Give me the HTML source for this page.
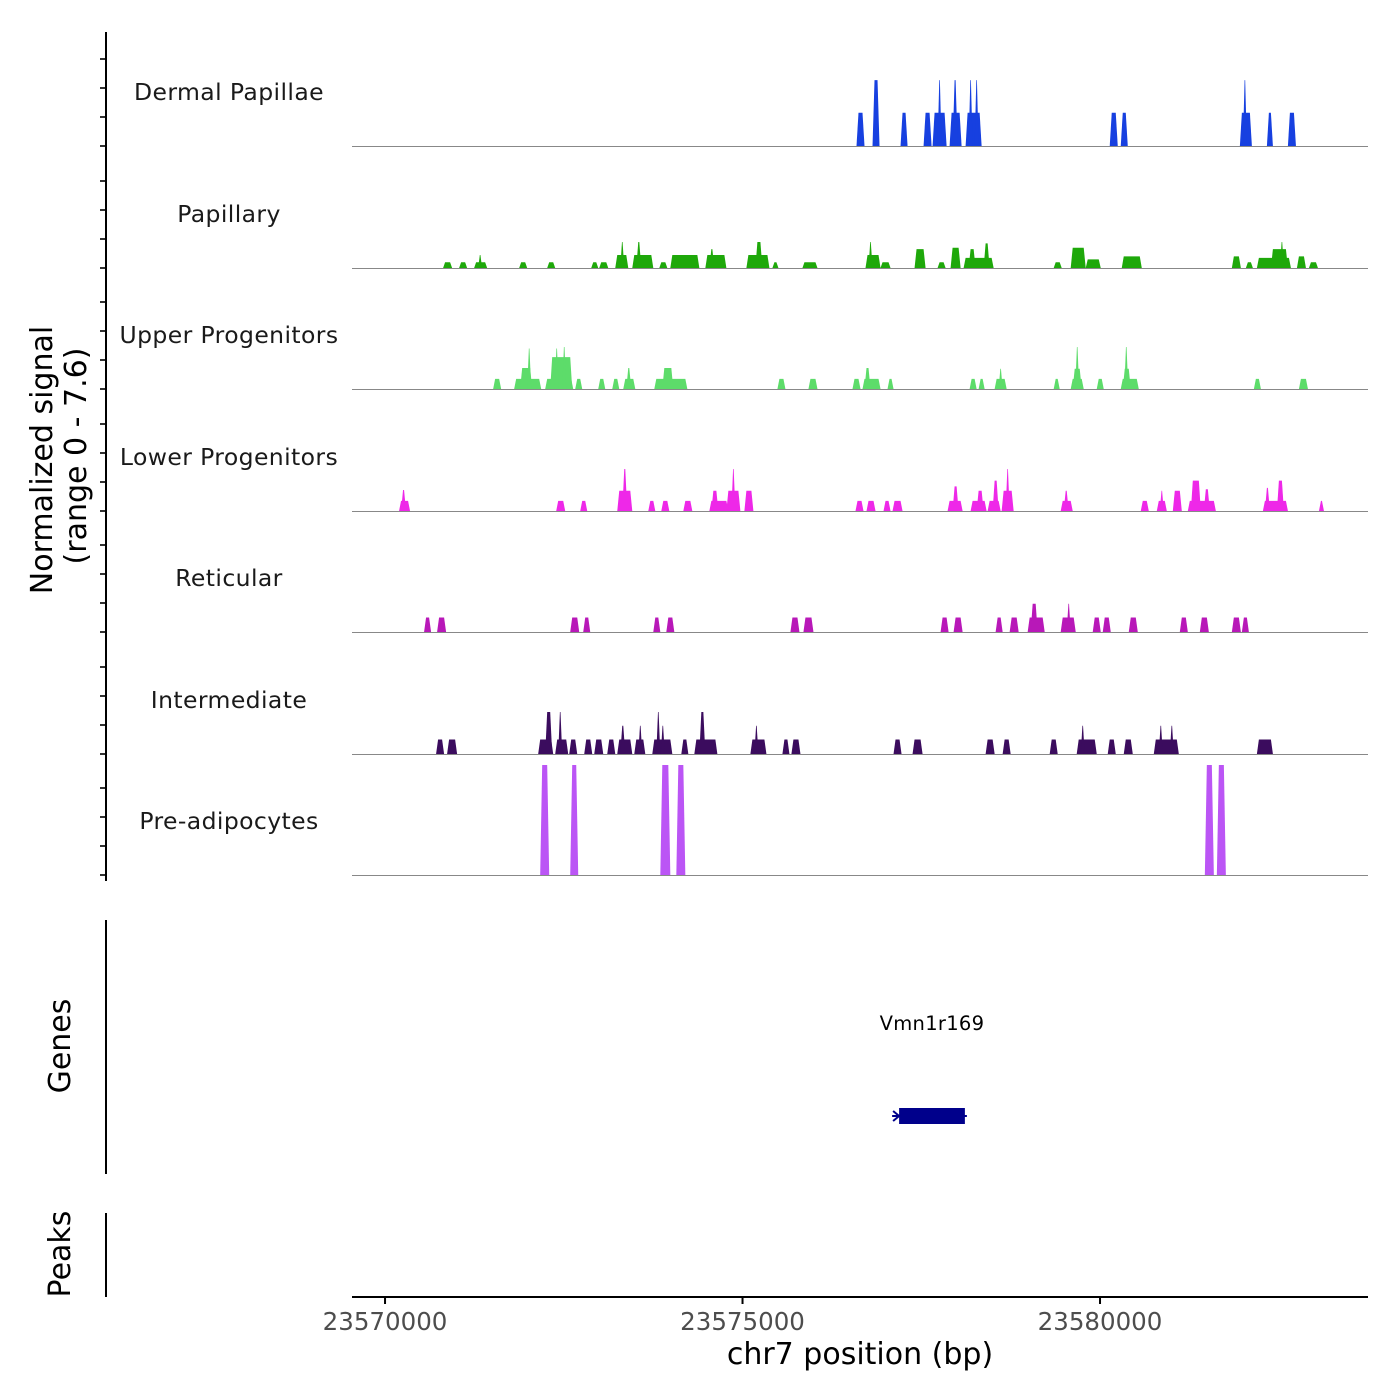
<!DOCTYPE html>
<html><head><meta charset="utf-8"><style>
body{margin:0;background:#fff;}
svg{display:block;font-family:"DejaVu Sans","Liberation Sans",sans-serif;}
</style></head><body>
<svg id="chart" width="1400" height="1400" viewBox="0 0 1400 1400">
<g id="tracks"></g>
<g id="axes"></g>
</svg>
<script>
const REGION_START = 23570000;
const xTickValues = [23570000, 23575000, 23580000];
const xTickLabels = ["23570000", "23575000", "23580000"];
const trackNames = ["Dermal Papillae","Papillary","Upper Progenitors","Lower Progenitors","Reticular","Intermediate","Pre-adipocytes"];
const trackColors = ["#1740e0","#1ea80a","#5ddc6a","#ee28e8","#b818b8","#3b0c5e","#bb55f5"];
const signalMax = 7.6;
// segments: [startOffsetBp, endOffsetBp, value] relative to REGION_START
const dermalPapillae = [[6594,6706,2.3],[6818,6916,4.55],[7210,7308,2.3],[7532,7644,2.3],[7658,7854,2.3],[7742,7770,4.55],[7896,8064,2.3],[7938,8008,4.55],[8120,8344,2.3],[8176,8204,4.55],[8260,8288,4.55],[10136,10248,2.3],[10290,10388,2.3],[11956,12124,2.3],[11998,12054,4.55],[12334,12418,2.3],[12628,12740,2.3]];
const papillary = [[812,938,0.4],[1036,1148,0.4],[1246,1428,0.4],[1302,1358,0.9],[1876,1988,0.4],[2268,2380,0.4],[2884,2982,0.4],[2996,3122,0.4],[3220,3402,0.9],[3290,3346,1.8],[3458,3752,0.9],[3514,3584,1.8],[3836,3948,0.4],[3990,4396,0.9],[4480,4774,0.9],[4536,4606,1.3],[5054,5376,0.9],[5180,5278,1.8],[5418,5502,0.4],[5838,6048,0.4],[6720,6930,0.9],[6762,6818,1.8],[6930,7070,0.4],[7406,7560,1.3],[7728,7840,0.4],[7910,8050,1.4],[8092,8512,0.7],[8162,8260,1.3],[8372,8456,1.7],[9352,9464,0.4],[9590,9800,1.4],[9800,10010,0.6],[10304,10584,0.8],[11844,11970,0.8],[12040,12138,0.4],[12194,12670,0.7],[12390,12628,1.3],[12516,12572,1.8],[12754,12880,0.8],[12922,13048,0.4]];
const upperProgenitors = [[1512,1624,0.7],[1806,2184,0.7],[1890,2058,1.45],[2002,2030,2.8],[2240,2632,0.7],[2310,2618,2.2],[2380,2422,2.8],[2478,2534,2.9],[2660,2758,0.7],[2982,3080,0.7],[3178,3276,0.7],[3332,3500,0.7],[3374,3444,1.45],[3766,4228,0.7],[3878,4032,1.45],[5488,5600,0.7],[5922,6048,0.7],[6538,6650,0.7],[6678,6930,0.7],[6706,6790,1.45],[7028,7112,0.7],[8176,8274,0.7],[8302,8386,0.7],[8526,8694,0.7],[8582,8638,1.4],[9352,9436,0.7],[9590,9772,0.7],[9618,9744,1.4],[9660,9702,2.9],[9954,10052,0.7],[10290,10542,0.7],[10318,10430,1.4],[10346,10388,2.9],[12152,12250,0.7],[12782,12908,0.7]];
const lowerProgenitors = [[196,350,0.7],[224,294,1.45],[2394,2520,0.7],[2730,2828,0.7],[3248,3458,1.4],[3318,3388,2.9],[3682,3780,0.7],[3864,3976,0.7],[4172,4298,0.7],[4536,4802,0.7],[4564,4662,1.4],[4774,4970,1.4],[4844,4900,2.9],[5026,5152,1.4],[6580,6692,0.7],[6734,6860,0.7],[6972,7070,0.7],[7098,7238,0.7],[7868,8078,0.7],[7938,8022,1.7],[8190,8414,0.7],[8274,8372,1.4],[8428,8610,0.7],[8498,8582,2.1],[8624,8792,1.4],[8680,8736,2.9],[9450,9618,0.7],[9492,9562,1.4],[10570,10682,0.7],[10794,10934,0.7],[10836,10892,1.4],[11018,11144,1.4],[11228,11620,0.7],[11270,11410,2.1],[11452,11536,1.5],[12278,12628,0.7],[12306,12376,1.6],[12474,12572,2.1],[13062,13132,0.7]];
const reticular = [[546,644,1.0],[728,854,1.0],[2590,2716,1.0],[2772,2870,1.0],[3752,3850,1.0],[3934,4046,1.0],[5670,5796,1.0],[5852,5992,1.0],[7770,7882,1.0],[7952,8078,1.0],[8540,8638,1.0],[8736,8862,1.0],[8988,9226,1.0],[9030,9128,1.95],[9450,9660,1.0],[9534,9590,1.95],[9898,10010,1.0],[10038,10150,1.0],[10402,10528,1.0],[11116,11228,1.0],[11396,11522,1.0],[11844,11970,1.0],[11984,12082,1.0]];
const intermediate = [[714,826,1.0],[868,1008,1.0],[2142,2352,1.0],[2240,2338,2.9],[2380,2562,1.0],[2422,2478,2.9],[2576,2688,1.0],[2786,2898,1.0],[2926,3052,1.0],[3108,3220,1.0],[3248,3458,1.0],[3290,3360,1.95],[3486,3640,1.0],[3542,3598,1.95],[3738,4018,1.0],[3794,3850,2.9],[3864,3906,1.95],[4144,4242,1.0],[4326,4648,1.0],[4396,4480,2.9],[5110,5334,1.0],[5166,5222,1.95],[5558,5656,1.0],[5684,5810,1.0],[7112,7224,1.0],[7378,7518,1.0],[8400,8526,1.0],[8638,8750,1.0],[9296,9408,1.0],[9674,9954,1.0],[9730,9786,1.95],[10108,10220,1.0],[10332,10458,1.0],[10752,11102,1.0],[10822,10878,1.95],[10976,11032,1.95],[12194,12418,1.0]];
const preAdipocytes = [[2170,2296,7.6],[2590,2702,7.6],[3850,3990,7.6],[4074,4200,7.6],[11466,11592,7.6],[11634,11760,7.6]];
const trackSegments = [dermalPapillae, papillary, upperProgenitors, lowerProgenitors, reticular, intermediate, preAdipocytes];
const geneName = "Vmn1r169";
const geneStart = 23577190;
const geneEnd = 23578110;

const NS = "http://www.w3.org/2000/svg";
const X0 = 352, X1 = 1368;
const domainStart = 23569538, domainEnd = 23583748;
function xScale(bp){ return X0 + (bp - domainStart) / (domainEnd - domainStart) * (X1 - X0); }
const baselines = [146, 268, 389, 511, 632, 754, 875];
function yScale(v, base){ return base - v / signalMax * 110; }
function mk(tag, attrs, parent){ const e=document.createElementNS(NS,tag); for(const k in attrs) e.setAttribute(k,attrs[k]); parent.appendChild(e); return e; }
const tracks = document.getElementById('tracks');
const axes = document.getElementById('axes');

trackNames.forEach((name, i) => {
  const base = baselines[i];
  const g = mk('g', {}, tracks);
  
  
  trackSegments[i].forEach(s => {
    let xs = xScale(REGION_START + s[0]), xe = xScale(REGION_START + s[1]);
    if (xe - xs < 4) { const c=(xs+xe)/2; xs=c-2; xe=c+2; }
    const top = yScale(s[2], base);
    const sl = Math.min(2, (xe - xs) / 2 - 0.3);
    const p = mk('polygon', {points: `${xs},${base} ${xs+sl},${top} ${xe-sl},${top} ${xe},${base}`, fill: trackColors[i]}, g);
    
    
  });
  const bl = mk('line', {x1:X0, x2:X1, y1:base+0.5, y2:base+0.5, stroke:'#888', 'stroke-width':1}, g);
  
  
  const t = mk('text', {x:229, y:base-46, 'text-anchor':'middle', 'font-size':23.5, fill:'#1a1a1a', 'letter-spacing':'0.4'}, g);
  t.textContent = name;
  
  
  for (let k = 0; k < 4; k++) {
    const tk = mk('line', {x1:100, x2:106, y1:base - k*29, y2:base - k*29, stroke:'#333', 'stroke-width':2}, axes);
    
    
  }
});

function axLine(x1,y1,x2,y2,name,w){ const l=mk('line',{x1,y1,x2,y2,stroke:'#000','stroke-width':w||2},axes);   }
axLine(106,32,106,881,'signal-y-axis');
axLine(106,920,106,1174,'genes-y-axis');
axLine(106,1213,106,1297,'peaks-y-axis');
axLine(352,1297,1368,1297,'x-axis');

function txt(x,y,s,size,name,extra){ const t=mk('text',Object.assign({x,y,'font-size':size,'text-anchor':'middle',fill:'#000'},extra||{}),axes); t.textContent=s;   return t; }
xTickValues.forEach((v,i)=>{
  const x = xScale(v);
  axLine(x,1297,x,1304,'x-tick');
  txt(x,1330,xTickLabels[i],24.5,'x-tick-label',{fill:'#4d4d4d'});
});
txt(860,1364,'chr7 position (bp)',30,'x-axis-title');
txt(0,0,'Normalized signal',30,'y-axis-title',{transform:'translate(52,460) rotate(-90)'});
txt(0,0,'(range 0 - 7.6)',30,'y-axis-subtitle',{transform:'translate(86,456) rotate(-90)'});
txt(0,0,'Genes',30,'genes-axis-title',{transform:'translate(70,1046) rotate(-90)'});
txt(0,0,'Peaks',30,'peaks-axis-title',{transform:'translate(70,1254) rotate(-90)'});

const gs = xScale(geneStart), ge = xScale(geneEnd);
const gg = mk('g', {}, tracks);


mk('line',{x1:gs-7,x2:ge+2,y1:1116,y2:1116,stroke:'#00008b','stroke-width':2},gg);
mk('rect',{x:gs,y:1108,width:ge-gs,height:16,fill:'#00008b'},gg);
mk('path',{d:`M${gs-6},1111 L${gs},1116 L${gs-6},1121`,stroke:'#00008b','stroke-width':2,fill:'none'},gg);
const gl = mk('text',{x:(gs+ge)/2,y:1030,'text-anchor':'middle','font-size':19.5,fill:'#000','letter-spacing':'0.3'},gg);
gl.textContent = geneName;


</script>
</body></html>
